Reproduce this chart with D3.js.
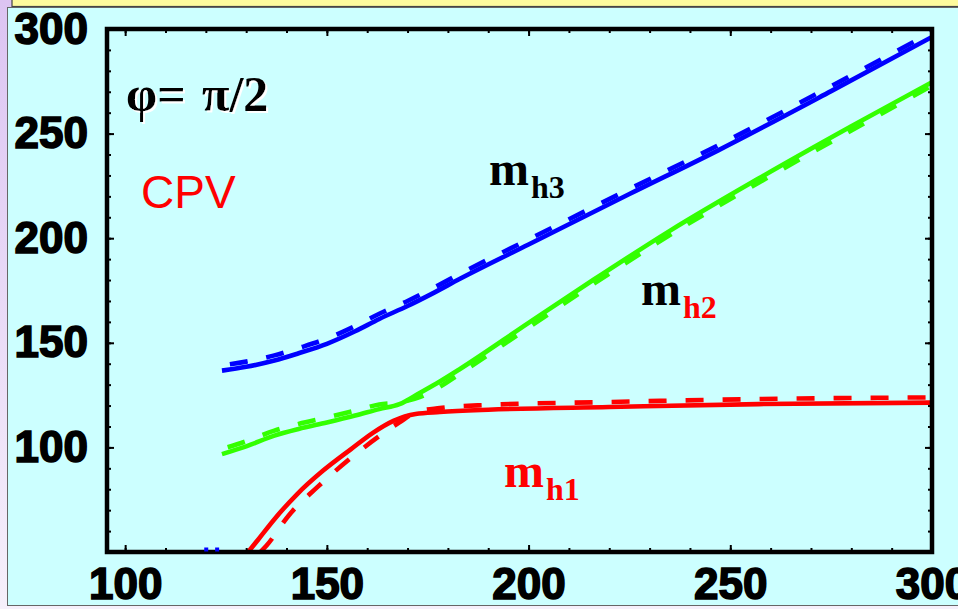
<!DOCTYPE html>
<html>
<head>
<meta charset="utf-8">
<script src="https://cdn.jsdelivr.net/npm/d3@7"></script>
<style>
  html, body { margin: 0; padding: 0; background: #f3ebfa; }
  svg { display: block; }
</style>
</head>
<body>
<svg id="chart" width="958" height="609"></svg>
<script>
// Higgs mass spectrum versus charged Higgs mass, phi = pi/2 (CPV)
const xMajorTicks = [100, 150, 200, 250, 300];
const yMajorTicks = [100, 150, 200, 250, 300];
const xMinorTicks = d3.range(100, 301, 10);
const yMinorTicks = d3.range(50, 301, 10);

// m_h3 (blue)
const h3X      = [124, 130, 137, 143, 150, 157, 163, 170, 176, 183, 200, 225, 247, 275, 300];
const h3Solid  = [136.7, 138.5, 141.5, 145, 149.5, 155.5, 161.4, 167.6, 173.4, 180.6, 197, 221.1, 242, 270.3, 296.2];
const h3Dashed = [139.2, 141, 144, 147.5, 152, 158, 163.9, 170, 175.8, 183, 199.4, 223.5, 244.4, 272.7, 298.5];

// m_h2 (green)
const h2X      = [124, 130, 137, 143, 150, 157, 163, 168, 173, 178, 183, 200, 216, 235, 257, 280, 300];
const h2Solid  = [96.8, 100.5, 105.6, 108.8, 111.9, 115.2, 118.3, 120.7, 126, 131.5, 137.5, 159.5, 180, 203.5, 228.5, 253.5, 274.6];
const h2Dashed = [99.2, 102.9, 108, 111.2, 114.3, 117.6, 120.5, 121.5, 124, 129, 135.3, 157.3, 178, 201.5, 226.5, 251.5, 273];

// m_h1 (red)
const h1SolidX  = [130.5, 133, 137, 142.6, 149, 156, 161.5, 166.5, 172, 178, 190, 220, 257, 300];
const h1Solid   = [50, 56, 65.7, 77.6, 88.8, 99.2, 107.1, 112.7, 116, 116.9, 118, 119.3, 120.7, 121.4];
const h1DashedX = [133.5, 135, 140.6, 147.7, 155.1, 162.8, 168, 172.3, 178, 190, 220, 257, 300];
const h1Dashed  = [50, 53, 67.6, 81.1, 93.6, 105.1, 112, 117, 118.8, 120.3, 121.7, 123.1, 123.9];

// small blue marks sitting on the lower frame
const tailMarkX = [120.1, 122.8];

const svg = d3.select("#chart");
const W = 958, H = 609;

// page backdrop
const defs = svg.append("defs");
const grad = defs.append("linearGradient").attr("id", "lav").attr("x1", 0).attr("y1", 0).attr("x2", 0).attr("y2", 1);
grad.append("stop").attr("offset", "0%").attr("stop-color", "#dcc4f2");
grad.append("stop").attr("offset", "100%").attr("stop-color", "#f6f0fb");
svg.append("rect").attr("width", W).attr("height", H).attr("fill", "url(#lav)");

// white halo used behind the phi label
const halo = defs.append("filter").attr("id", "halo")
  .attr("x", "-10%").attr("y", "-10%").attr("width", "130%").attr("height", "130%");
halo.append("feDropShadow").attr("dx", 2).attr("dy", 2).attr("stdDeviation", 0.3)
  .attr("flood-color", "#ffffff").attr("flood-opacity", 1);

// yellow title strip
svg.append("rect").attr("x", 12).attr("y", -2).attr("width", W).attr("height", 8.5)
  .attr("fill", "#fdfa9d").attr("stroke", "#444").attr("stroke-width", 1.2);

// cyan panel
svg.append("rect").attr("x", 7.5).attr("y", 7.5).attr("width", W).attr("height", 598)
  .attr("fill", "#ccffff").attr("stroke", "#666").attr("stroke-width", 1);

const plot = { left: 107, right: 932, top: 29, bottom: 552 };
const x = d3.scaleLinear().domain([95.5, 300]).range([plot.left, plot.right]);
const y = d3.scaleLinear().domain([50, 300]).range([plot.bottom, plot.top]);

defs.append("clipPath").attr("id", "plotClip").append("rect")
  .attr("x", plot.left).attr("y", plot.top)
  .attr("width", plot.right - plot.left).attr("height", plot.bottom - plot.top);

const g = svg.append("g").attr("clip-path", "url(#plotClip)");

const line = d3.line().x(d => x(d[0])).y(d => y(d[1])).curve(d3.curveMonotoneX);
const zip = (xs, ys) => xs.map((v, i) => [v, ys[i]]);

const series = [
  { xs: h3X, ys: h3Dashed, color: "#0000ff", dash: "18,19", offset: -8 },
  { xs: h2X, ys: h2Dashed, color: "#33ff00", dash: "18,19", offset: -6 },
  { xs: h1DashedX, ys: h1Dashed, color: "#ff0000", dash: "18,19", offset: 0 },
  { xs: h3X, ys: h3Solid, color: "#0000ff", dash: null },
  { xs: h2X, ys: h2Solid, color: "#33ff00", dash: null },
  { xs: h1SolidX, ys: h1Solid, color: "#ff0000", dash: null }
];

series.forEach(s => {
  g.append("path")
    .datum(zip(s.xs, s.ys))
    .attr("d", line)
    .attr("fill", "none")
    .attr("stroke", s.color)
    .attr("stroke-width", 4.6)
    .attr("stroke-dasharray", s.dash)
    .attr("stroke-dashoffset", s.offset || 0);
});

// inward ticks on all four sides
function tickAxis(gen, scale, values, size, transform) {
  const a = svg.append("g").attr("transform", transform)
    .call(gen(scale).tickValues(values).tickSize(size).tickFormat(""));
  a.select(".domain").remove();
  a.selectAll("line").attr("stroke", "#000").attr("stroke-width", 2);
}
tickAxis(d3.axisBottom, x, xMinorTicks, -4, `translate(0,${plot.bottom})`);
tickAxis(d3.axisBottom, x, xMajorTicks, -7, `translate(0,${plot.bottom})`);
tickAxis(d3.axisTop, x, xMinorTicks, -4, `translate(0,${plot.top})`);
tickAxis(d3.axisTop, x, xMajorTicks, -7, `translate(0,${plot.top})`);
tickAxis(d3.axisLeft, y, yMinorTicks, -4, `translate(${plot.left},0)`);
tickAxis(d3.axisLeft, y, yMajorTicks, -7, `translate(${plot.left},0)`);
tickAxis(d3.axisRight, y, yMinorTicks, -4, `translate(${plot.right},0)`);
tickAxis(d3.axisRight, y, yMajorTicks, -7, `translate(${plot.right},0)`);

// frame
svg.append("rect")
  .attr("x", plot.left).attr("y", plot.top)
  .attr("width", plot.right - plot.left).attr("height", plot.bottom - plot.top)
  .attr("fill", "none").attr("stroke", "#000").attr("stroke-width", 4.5);

svg.selectAll("rect.tail").data(tailMarkX).join("rect")
  .attr("class", "tail")
  .attr("x", d => x(d) - 2).attr("y", y(50) - 4.5)
  .attr("width", 4).attr("height", 4)
  .attr("fill", "#0000ff");

// tick labels
const labelFont = "'Liberation Sans', Arial, sans-serif";
function styleLabels(sel) {
  sel.selectAll("text")
    .attr("font-family", labelFont)
    .attr("font-weight", "bold")
    .attr("font-size", 44)
    .attr("fill", "#000")
    .attr("stroke", "#000")
    .attr("stroke-width", 1.6);
}
const xl = svg.append("g").attr("transform", `translate(0,${plot.bottom})`)
  .call(d3.axisBottom(x).tickValues(xMajorTicks).tickSize(0).tickPadding(16).tickFormat(d3.format("d")));
xl.select(".domain").remove();
styleLabels(xl);

const yl = svg.append("g").attr("transform", `translate(${plot.left},0)`)
  .call(d3.axisLeft(y).tickValues(yMajorTicks).tickSize(0).tickPadding(19).tickFormat(d3.format("d")));
yl.select(".domain").remove();
styleLabels(yl);

// annotations
const serif = "'Liberation Serif', 'Times New Roman', serif";
const phi = svg.append("text").attr("font-family", serif).attr("font-weight", "bold")
  .attr("font-size", 50).attr("fill", "#000").attr("filter", "url(#halo)");
phi.append("tspan").attr("x", 126).attr("y", 111).text("φ=");
phi.append("tspan").attr("x", 202).attr("y", 111).text("π/2");

svg.append("text").attr("x", 141).attr("y", 208)
  .attr("font-family", labelFont).attr("font-size", 46).attr("fill", "#ff0000")
  .text("CPV");

function massLabel(xPos, yPos, sub, mColor, subColor) {
  const t = svg.append("text").attr("font-family", serif).attr("font-weight", "bold")
    .attr("x", xPos).attr("y", yPos);
  t.append("tspan").attr("font-size", 48).attr("fill", mColor).text("m");
  t.append("tspan").attr("font-size", 32).attr("fill", subColor).attr("dy", 13).attr("dx", 2).text(sub);
}
massLabel(489, 185, "h3", "#000", "#000");
massLabel(641, 305, "h2", "#000", "#ff0000");
massLabel(504, 487, "h1", "#ff0000", "#ff0000");
</script>
</body>
</html>
